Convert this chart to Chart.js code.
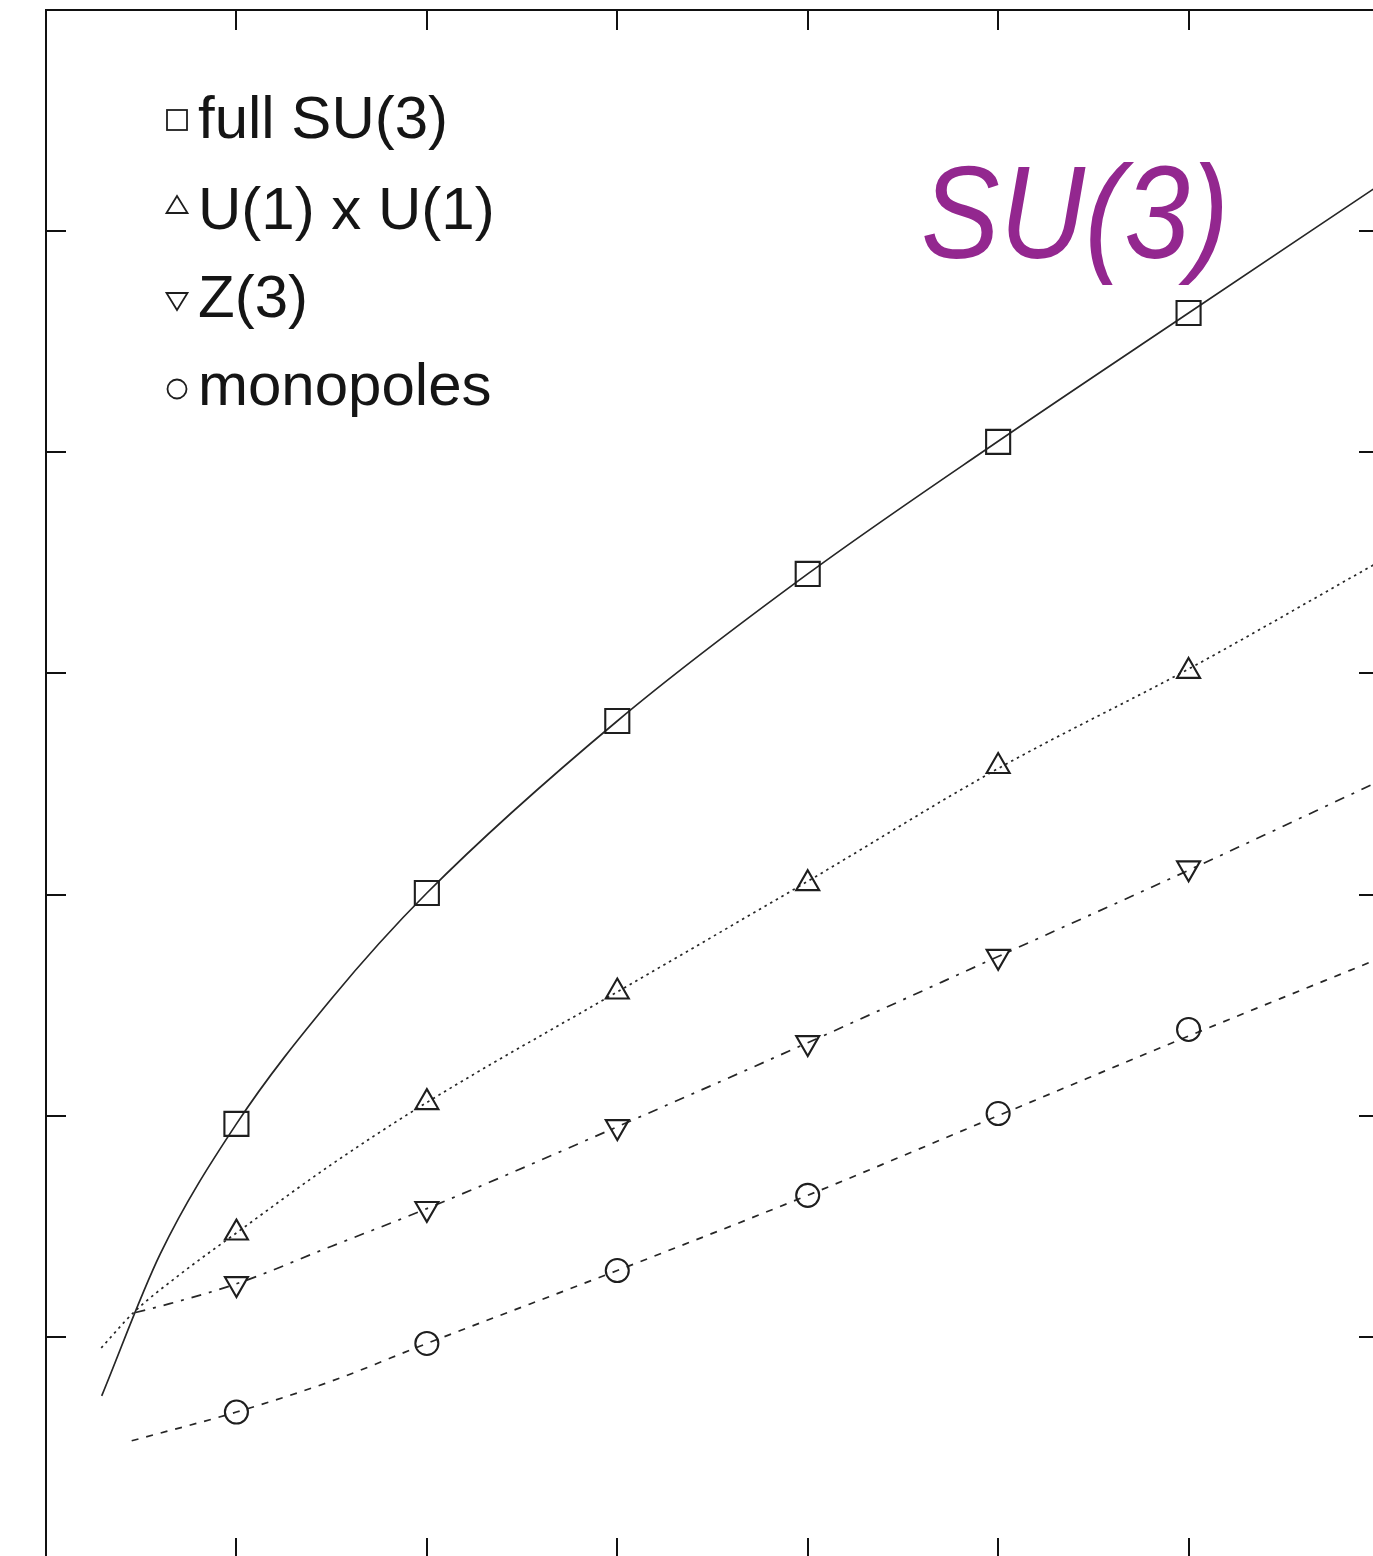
<!DOCTYPE html>
<html>
<head>
<meta charset="utf-8">
<title>SU(3) potentials</title>
<script src="https://cdn.jsdelivr.net/npm/chart.js@4/dist/chart.umd.min.js"></script>
<style>
  html, body { margin: 0; padding: 0; background: #ffffff; overflow: hidden; }
  #wrap { position: absolute; left: 0; top: 0; width: 1400px; height: 1600px; }
  canvas { display: block; }
</style>
</head>
<body>
<div id="wrap"><canvas id="chart" width="1400" height="1600"></canvas></div>
<script>
// Separation values of the measured points
const rValues = [1, 2, 3, 4, 5, 6];

// Measured potentials
const fullSU3   = [1.963, 3.007, 3.785, 4.450, 5.047, 5.630];
const u1xu1     = [1.47, 2.06, 2.56, 3.05, 3.58, 4.01];
const z3        = [1.24, 1.58, 1.95, 2.33, 2.72, 3.12];
const monopoles = [0.66, 0.97, 1.30, 1.64, 2.01, 2.39];

// Fit curves (sampled along each fitted line)
const fitSU3X = [0.2925, 0.60, 1.00, 1.50, 2.00, 3.00, 4.00, 5.00, 6.00, 6.97];
const fitSU3Y = [0.733, 1.375, 1.963, 2.530, 3.007, 3.785, 4.45, 5.05, 5.63, 6.19];

const fitU1X = [0.29, 0.46, 0.70, 1.00, 1.50, 2.00, 3.00, 4.00, 5.00, 6.00, 6.97];
const fitU1Y = [0.95, 1.11, 1.28, 1.47, 1.78, 2.06, 2.56, 3.06, 3.57, 4.02, 4.49];

const fitZ3X = [0.47, 0.65, 1.00, 1.50, 2.00, 3.00, 4.00, 5.00, 6.00, 6.97];
const fitZ3Y = [1.11, 1.15, 1.24, 1.41, 1.58, 1.95, 2.33, 2.72, 3.11, 3.50];

const fitMonoX = [0.45, 1.00, 1.50, 2.00, 3.00, 4.00, 5.00, 6.00, 6.97];
const fitMonoY = [0.53, 0.66, 0.80, 0.97, 1.30, 1.64, 2.00, 2.36, 2.70];

// Axis ticks (no labels, inward tick marks on all four sides)
const xTicks = [1, 2, 3, 4, 5, 6];
const yTicks = [1, 2, 3, 4, 5, 6];

// Legend entries and annotation
const legendLabels = ['full SU(3)', 'U(1) x U(1)', 'Z(3)', 'monopoles'];
const groupLabel = 'SU(3)';

const ink = '#1e1e1e';
const lineInk = '#262626';

function pts(xs, ys) { return xs.map((x, i) => ({ x: x, y: ys[i] })); }

function fitSet(xs, ys, dash) {
  return {
    type: 'line',
    data: pts(xs, ys),
    borderColor: lineInk,
    borderWidth: 1.7,
    borderDash: dash,
    pointRadius: 0,
    pointHoverRadius: 0,
    fill: false,
    cubicInterpolationMode: 'monotone',
    order: 2
  };
}

function markSet(label, ys, style, radius, rotation) {
  return {
    type: 'line',
    label: label,
    data: pts(rValues, ys),
    showLine: false,
    pointStyle: style,
    pointRadius: radius,
    pointHoverRadius: radius,
    pointRotation: rotation || 0,
    pointBorderColor: ink,
    pointBorderWidth: 2.1,
    pointBackgroundColor: 'rgba(255,255,255,0)',
    order: 1
  };
}

// Frame, inward ticks, legend and annotation
const decorations = {
  id: 'decorations',
  afterDraw(chart) {
    const ctx = chart.ctx;
    const a = chart.chartArea;
    const xs = chart.scales.x, ys = chart.scales.y;
    const tick = 20;
    ctx.save();
    ctx.strokeStyle = '#111111';
    ctx.lineWidth = 2;
    ctx.strokeRect(a.left, a.top, a.right - a.left, a.bottom - a.top);
    ctx.beginPath();
    xTicks.forEach(v => {
      const px = Math.round(xs.getPixelForValue(v));
      ctx.moveTo(px, a.top); ctx.lineTo(px, a.top + tick);
      ctx.moveTo(px, a.bottom); ctx.lineTo(px, a.bottom - tick);
    });
    yTicks.forEach(v => {
      const py = Math.round(ys.getPixelForValue(v));
      ctx.moveTo(a.left, py); ctx.lineTo(a.left + tick, py);
      ctx.moveTo(a.right, py); ctx.lineTo(a.right - tick, py);
    });
    ctx.stroke();

    // legend
    const mx = 177;
    const markerY = [120, 207, 299, 389];
    const baseY = [138, 229, 317, 405];
    ctx.lineWidth = 1.8;
    ctx.strokeStyle = ink;
    ctx.strokeRect(mx - 10, markerY[0] - 10, 20, 20);
    ctx.beginPath();
    ctx.moveTo(mx, markerY[1] - 11);
    ctx.lineTo(mx + 10.5, markerY[1] + 6);
    ctx.lineTo(mx - 10.5, markerY[1] + 6);
    ctx.closePath(); ctx.stroke();
    ctx.beginPath();
    ctx.moveTo(mx, markerY[2] + 11);
    ctx.lineTo(mx + 10.5, markerY[2] - 6);
    ctx.lineTo(mx - 10.5, markerY[2] - 6);
    ctx.closePath(); ctx.stroke();
    ctx.beginPath();
    ctx.arc(mx, markerY[3], 9.5, 0, Math.PI * 2);
    ctx.stroke();

    ctx.fillStyle = '#151515';
    ctx.font = '60px "Liberation Sans", Arial, sans-serif';
    ctx.textBaseline = 'alphabetic';
    ctx.textAlign = 'left';
    legendLabels.forEach((t, i) => ctx.fillText(t, 198, baseY[i]));

    // group annotation
    ctx.font = 'italic 132px "Liberation Sans", Arial, sans-serif';
    const w = ctx.measureText(groupLabel).width;
    ctx.translate(921, 258);
    ctx.scale(308 / w, 1);
    ctx.fillStyle = '#93278f';
    ctx.fillText(groupLabel, 0, 0);
    ctx.restore();
  }
};

new Chart(document.getElementById('chart'), {
  type: 'line',
  data: {
    datasets: [
      markSet(legendLabels[0], fullSU3, 'rect', 17, 0),
      markSet(legendLabels[1], u1xu1, 'triangle', 13.3, 0),
      markSet(legendLabels[2], z3, 'triangle', 13.3, 180),
      markSet(legendLabels[3], monopoles, 'circle', 11.5, 0),
      fitSet(fitSU3X, fitSU3Y, []),
      fitSet(fitU1X, fitU1Y, [2.5, 4]),
      fitSet(fitZ3X, fitZ3Y, [10, 8, 3, 8]),
      fitSet(fitMonoX, fitMonoY, [7, 8])
    ]
  },
  options: {
    responsive: false,
    animation: false,
    events: [],
    layout: { autoPadding: false, padding: { left: 46, top: 10, right: 21, bottom: 42 } },
    plugins: { legend: { display: false }, tooltip: { enabled: false }, title: { display: false } },
    scales: {
      x: { type: 'linear', min: 0, max: 7, display: false },
      y: { type: 'linear', min: 0, max: 7, display: false }
    }
  },
  plugins: [decorations]
});
</script>
</body>
</html>
